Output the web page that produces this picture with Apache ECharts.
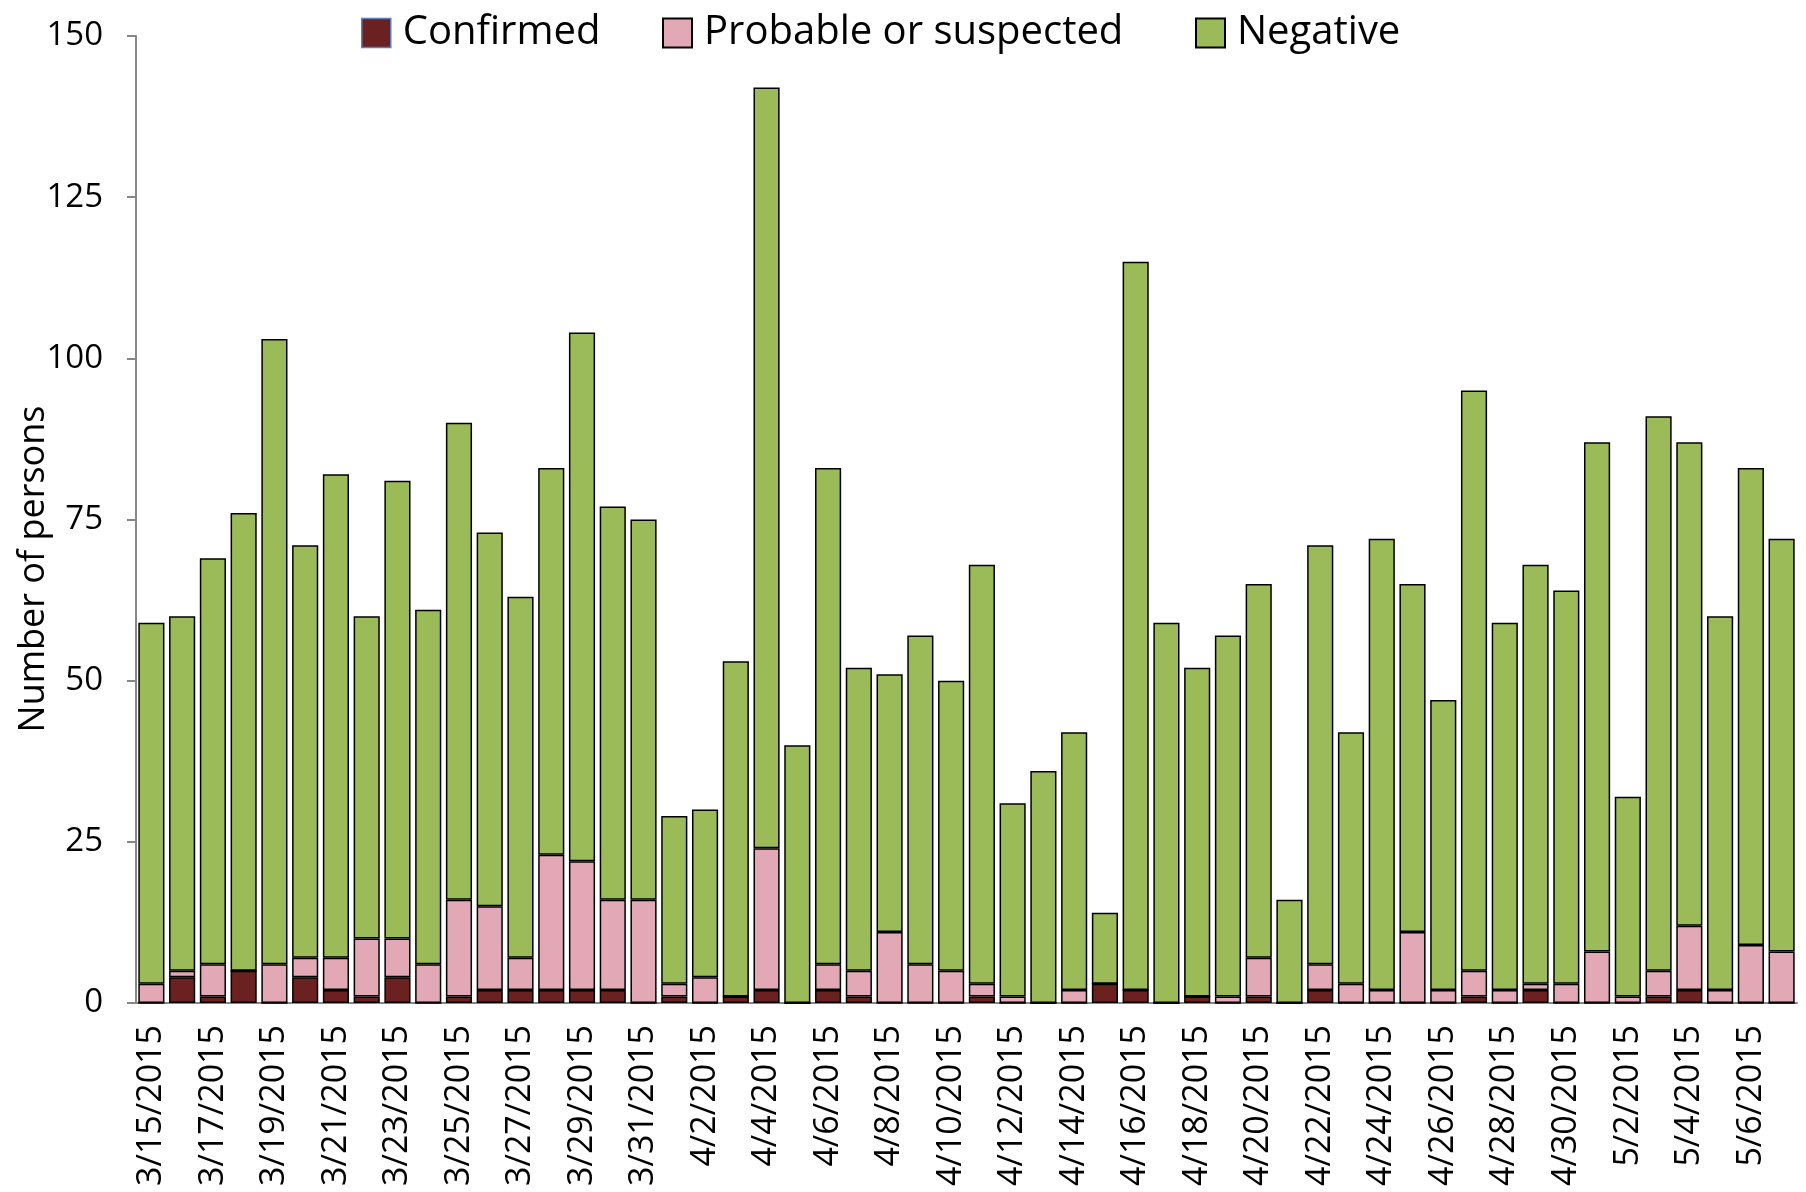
<!DOCTYPE html>
<html>
<head>
<meta charset="utf-8">
<script src="https://cdn.jsdelivr.net/npm/echarts@6/dist/echarts.min.js"></script>
<style>
html,body{margin:0;padding:0;background:#fff;}
#chart{width:1806px;height:1192px;}
</style>
</head>
<body>
<div id="chart"></div>
<script>
const categories = [
  '3/15/2015','3/16/2015','3/17/2015','3/18/2015','3/19/2015','3/20/2015','3/21/2015','3/22/2015','3/23/2015','3/24/2015',
  '3/25/2015','3/26/2015','3/27/2015','3/28/2015','3/29/2015','3/30/2015','3/31/2015',
  '4/1/2015','4/2/2015','4/3/2015','4/4/2015','4/5/2015','4/6/2015','4/7/2015','4/8/2015','4/9/2015','4/10/2015',
  '4/11/2015','4/12/2015','4/13/2015','4/14/2015','4/15/2015','4/16/2015','4/17/2015','4/18/2015','4/19/2015','4/20/2015',
  '4/21/2015','4/22/2015','4/23/2015','4/24/2015','4/25/2015','4/26/2015','4/27/2015','4/28/2015','4/29/2015','4/30/2015',
  '5/1/2015','5/2/2015','5/3/2015','5/4/2015','5/5/2015','5/6/2015','5/7/2015'
];
const confirmed = [
  0,4,1,5,0,4,2,1,4,0,
  1,2,2,2,2,2,0,
  1,0,1,2,0,2,1,0,0,0,
  1,0,0,0,3,2,0,1,0,1,
  0,2,0,0,0,0,1,0,2,0,
  0,0,1,2,0,0,0
];
const probable = [
  3,1,5,0,6,3,5,9,6,6,
  15,13,5,21,20,14,16,
  2,4,0,22,0,4,4,11,6,5,
  2,1,0,2,0,0,0,0,1,6,
  0,4,3,2,11,2,4,2,1,3,
  8,1,4,10,2,9,8
];
const negative = [
  56,55,63,71,97,64,75,50,71,55,
  74,58,56,60,82,61,59,
  26,26,52,118,40,77,47,40,51,45,
  65,30,36,40,11,113,59,51,56,58,
  16,65,39,70,54,45,90,57,65,61,
  79,31,86,75,58,74,64
];
const yTicks = {min: 0, max: 150, interval: 25};

const FONT = 'Open Sans';
const chart = echarts.init(document.getElementById('chart'));
const barCommon = {
  type: 'bar', stack: 'total', barCategoryGap: '15%',
  emphasis: {disabled: true}
};
const legendCommon = {
  top: 6, itemWidth: 29, itemHeight: 29, itemGap: 0, icon: 'rect',
  textStyle: {fontFamily: FONT, fontSize: 40, color: '#000', lineHeight: 44, padding: [0, 0, 0, 7]}
};
chart.setOption({
  animation: false,
  backgroundColor: '#fff',
  legend: [
    Object.assign({}, legendCommon, {left: 356, data: [{name: 'Confirmed', icon: 'rect', itemStyle: {borderColor: '#5b7fbd', borderWidth: 1.5}}]}),
    Object.assign({}, legendCommon, {left: 657, data: [{name: 'Probable or suspected', icon: 'rect', itemStyle: {borderColor: '#000', borderWidth: 2}}]}),
    Object.assign({}, legendCommon, {left: 1190, data: [{name: 'Negative', icon: 'rect', itemStyle: {borderColor: '#000', borderWidth: 2}}]})
  ],
  grid: {left: 136, right: 9, top: 36, bottom: 189, containLabel: false},
  xAxis: {
    type: 'category',
    data: categories,
    axisLine: {lineStyle: {color: '#878787', width: 2}},
    axisTick: {interval: 1, length: 9, lineStyle: {color: '#878787', width: 2}},
    axisLabel: {interval: 1, rotate: 90, margin: 22, fontFamily: FONT, fontSize: 34, color: '#000'}
  },
  yAxis: {
    type: 'value',
    min: yTicks.min, max: yTicks.max, interval: yTicks.interval,
    axisLine: {show: true, lineStyle: {color: '#878787', width: 2}},
    axisTick: {show: true, length: 9, lineStyle: {color: '#878787', width: 2}},
    splitLine: {show: false},
    axisLabel: {margin: 33, fontFamily: FONT, fontSize: 33, color: '#000'}
  },
  graphic: [{
    type: 'text',
    x: 34, y: 569,
    rotation: Math.PI / 2,
    style: {text: 'Number of persons', fontFamily: FONT, fontSize: 36, fill: '#000', align: 'center', verticalAlign: 'middle'}
  }],
  series: [
    Object.assign({}, barCommon, {name: 'Confirmed', data: confirmed,
      itemStyle: {color: '#6c2121', borderColor: '#000', borderWidth: 1.5}}),
    Object.assign({}, barCommon, {name: 'Probable or suspected', data: probable,
      itemStyle: {color: '#e3a8b6', borderColor: '#000', borderWidth: 1.5}}),
    Object.assign({}, barCommon, {name: 'Negative', data: negative,
      itemStyle: {color: '#9bbb59', borderColor: '#000', borderWidth: 1.5}})
  ]
});
</script>
</body>
</html>
